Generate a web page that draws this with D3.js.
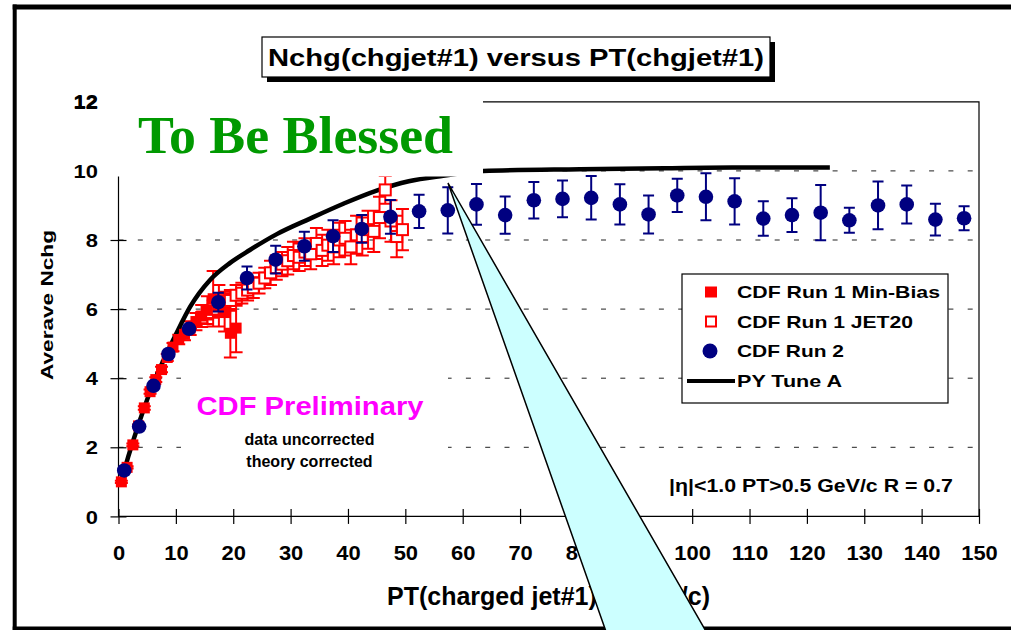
<!DOCTYPE html>
<html>
<head>
<meta charset="utf-8">
<script src="https://cdn.jsdelivr.net/npm/d3@7"></script>
<style>
  body { margin: 0; background: #fff; }
  text { font-family: Arial, "Liberation Sans", sans-serif; font-weight: bold; }
</style>
</head>
<body>
<svg id="chart" width="1011" height="630"></svg>
<script>
// ---- data -------------------------------------------------------------
// CDF Run 2: average charged multiplicity in the leading charged jet
const run2Pt  = [1.0, 3.6, 6.1, 8.7, 12.3, 17.4, 22.4, 27.4, 32.4, 37.4, 42.4, 47.4, 52.4,
                 57.4, 62.4, 67.4, 72.4, 77.4, 82.4, 87.4, 92.4, 97.4, 102.4, 107.4, 112.4,
                 117.4, 122.4, 127.4, 132.4, 137.4, 142.4, 147.4];
const run2N   = [1.33, 2.6, 3.78, 4.70, 5.43, 6.2, 6.9, 7.43, 7.82, 8.11, 8.32, 8.67, 8.83,
                 8.86, 9.03, 8.72, 9.15, 9.19, 9.22, 9.03, 8.74, 9.29, 9.25, 9.12, 8.62,
                 8.72, 8.79, 8.57, 9.0, 9.03, 8.59, 8.63];
const run2Err = [0.05, 0.05, 0.05, 0.06, 0.1, 0.27, 0.33, 0.4, 0.42, 0.46, 0.4, 0.49, 0.48,
                 0.67, 0.59, 0.54, 0.53, 0.53, 0.63, 0.58, 0.55, 0.48, 0.68, 0.67, 0.5,
                 0.49, 0.8, 0.36, 0.69, 0.55, 0.46, 0.35];

// CDF Run 1 Min-Bias
const mbPt  = [0.5, 1.5, 2.5, 3.5, 4.5, 5.5, 6.5, 7.5, 8.5, 9.5, 10.5, 11.5, 12.5, 13.5,
               14.5, 15.5, 16.5, 17.5, 18.5, 19.5, 20.5];
const mbN   = [1.0, 1.42, 2.07, 2.62, 3.14, 3.61, 3.96, 4.25, 4.6, 4.9, 5.12, 5.27, 5.45, 5.64,
               5.8, 5.97, 6.3, 6.1, 5.9, 5.3, 5.45];
const mbErr = [0.03, 0.03, 0.04, 0.04, 0.05, 0.06, 0.07, 0.08, 0.1, 0.12, 0.14, 0.17, 0.2, 0.25,
               0.32, 0.4, 0.8, 0.6, 0.55, 0.7, 0.7];

// CDF Run 1 JET20
const j20Pt  = [14.5, 15.5, 16.5, 17.5, 18.5, 19.5, 20.5, 21.5, 22.5, 23.5, 24.5, 25.5,
                26.5, 27.5, 28.5, 29.5, 30.5, 31.5, 32.5, 33.5, 34.5, 35.5, 36.5, 37.5,
                38.5, 39.5, 40.5, 41.5, 42.5, 43.5, 44.5, 45.5, 46.5, 47.5, 48.5, 49.5];
const j20N   = [5.75, 5.9, 6.0, 6.1, 6.2, 6.25, 6.4, 6.46, 6.55, 6.62, 6.75, 6.9,
                7.05, 7.2, 7.3, 7.4, 7.55, 7.5, 7.65, 7.6, 7.9, 7.7, 7.85, 7.8,
                8.0, 8.05, 7.8, 8.15, 8.1, 8.3, 8.25, 8.65, 9.45, 8.55, 8.1, 8.3];
const j20Err = [0.15, 0.2, 0.25, 0.3, 0.3, 0.3, 0.3, 0.3, 0.3, 0.3, 0.3, 0.3,
                0.35, 0.35, 0.35, 0.4, 0.4, 0.4, 0.4, 0.45, 0.45, 0.45, 0.45, 0.5,
                0.5, 0.5, 0.5, 0.55, 0.55, 0.55, 0.6, 0.6, 0.4, 0.6, 0.6, 0.6];

// PYTHIA Tune A prediction
const pyPt = [0.6, 1.7, 3.75, 6.1, 8.7, 10.1, 12.5, 16, 19.4, 22.9, 27.6, 33.4, 39.2, 45,
              50.6, 56.6, 63.6, 80.4, 95, 107, 124];
const pyN  = [1.1, 1.73, 2.79, 3.86, 4.82, 5.3, 6.07, 6.85, 7.33, 7.71, 8.17, 8.62, 9.05, 9.43,
              9.70, 9.86, 10.0, 10.05, 10.08, 10.1, 10.1];

const xTickValues = [0, 10, 20, 30, 40, 50, 60, 70, 80, 90, 100, 110, 120, 130, 140, 150];
const yTickValues = [0, 2, 4, 6, 8, 10, 12];
const gridValues  = [2, 4, 6, 8, 10];

const legendLabels = ["CDF Run 1 Min-Bias", "CDF Run 1 JET20", "CDF Run 2", "PY Tune A"];

// ---- layout -----------------------------------------------------------
const svg = d3.select("#chart");
const RED = "#ff0000", NAVY = "#000080";

const x = d3.scaleLinear().domain([0, 150]).range([118.5, 979]);
const y = d3.scaleLinear().domain([0, 12]).range([516.4, 101.8]);

svg.append("rect").attr("width", 1011).attr("height", 630).attr("fill", "#fff");

// dashed grid lines
svg.append("g").selectAll("line").data(gridValues).join("line")
  .attr("x1", x(0)).attr("x2", x(150))
  .attr("y1", d => y(d)).attr("y2", d => y(d))
  .attr("stroke", "#222").attr("stroke-width", 1)
  .attr("stroke-dasharray", "5,14.3");

// plot frame (top and right)
svg.append("path")
  .attr("d", `M${x(0)},${y(12)}H${x(150)}V${y(0)}`)
  .attr("fill", "none").attr("stroke", "#000").attr("stroke-width", 1.2);

// white label panel that masks the grid around the annotation
svg.append("rect").attr("x", 181).attr("y", 366).attr("width", 267).attr("height", 112).attr("fill", "#fff");
svg.append("text").attr("x", 310).attr("y", 415).attr("text-anchor", "middle")
  .attr("font-size", 25.5).attr("fill", "#ff00ff")
  .attr("textLength", 227).attr("lengthAdjust", "spacingAndGlyphs")
  .text("CDF Preliminary");
svg.append("text").attr("x", 309.5).attr("y", 445).attr("text-anchor", "middle")
  .attr("font-size", 16).attr("fill", "#000").text("data uncorrected");
svg.append("text").attr("x", 309.5).attr("y", 466.5).attr("text-anchor", "middle")
  .attr("font-size", 16).attr("fill", "#000").text("theory corrected");

// x axis
const xAxis = svg.append("g").attr("transform", `translate(0,${y(0)})`)
  .call(d3.axisBottom(x).tickValues(xTickValues).tickSize(7).tickPadding(0).tickFormat(d3.format("d")));
xAxis.select(".domain").attr("stroke", "#000").attr("stroke-width", 1.2).attr("d", `M${x(0)},0H${x(150)}`);
xAxis.selectAll(".tick line").attr("y1", -7.5).attr("y2", 7.5).attr("stroke", "#000").attr("stroke-width", 1.2);
xAxis.selectAll(".tick text").attr("y", 43.5).attr("dy", null)
  .attr("font-size", 21).attr("fill", "#000").attr("font-family", null)
  .attr("textLength", d => String(d).length * 12.2).attr("lengthAdjust", "spacingAndGlyphs");

// y axis
const yAxis = svg.append("g").attr("transform", `translate(${x(0)},0)`)
  .call(d3.axisLeft(y).tickValues(yTickValues).tickSize(8).tickPadding(0).tickFormat(d3.format("d")));
yAxis.select(".domain").attr("stroke", "#000").attr("stroke-width", 1.2).attr("d", `M0,${y(12)}V${y(0)}`);
yAxis.selectAll(".tick line").attr("x1", -8).attr("x2", 8).attr("stroke", "#000").attr("stroke-width", 1.2);
yAxis.selectAll(".tick text").attr("x", -20.5).attr("dy", "0.35em")
  .attr("font-size", 19).attr("fill", "#000").attr("font-family", null)
  .attr("textLength", d => String(d).length * 12.2).attr("lengthAdjust", "spacingAndGlyphs");

// axis titles
svg.append("text").attr("transform", "translate(53,305) rotate(-90)")
  .attr("text-anchor", "middle").attr("font-size", 17)
  .attr("textLength", 150).attr("lengthAdjust", "spacingAndGlyphs")
  .text("Averave Nchg");
const xTitle = svg.append("text").attr("x", 387).attr("y", 605).attr("font-size", 25);
xTitle.append("tspan").text("PT(charged jet#1) ");
xTitle.append("tspan").attr("x", 622.5).text("(GeV/c)");

// ---- series ------------------------------------------------------------
function errorBars(g, pts, vals, errs, color, cap) {
  const rows = pts.map((p, i) => ({ p, v: vals[i], e: errs[i] }));
  const path = rows.map(r => {
    const cx = x(r.p), y1 = y(r.v + r.e), y2 = y(r.v - r.e);
    return `M${cx},${y1}V${y2}M${cx - cap},${y1}H${cx + cap}M${cx - cap},${y2}H${cx + cap}`;
  }).join("");
  g.append("path").attr("d", path).attr("fill", "none").attr("stroke", color).attr("stroke-width", 2);
}

const series = svg.append("g");
errorBars(series, j20Pt, j20N, j20Err, RED, 6.5);
errorBars(series, mbPt, mbN, mbErr, RED, 6.5);

// PY Tune A curve
series.append("path")
  .datum(pyPt.map((p, i) => [p, pyN[i]]))
  .attr("d", d3.line().x(d => x(d[0])).y(d => y(d[1])).curve(d3.curveMonotoneX))
  .attr("fill", "none").attr("stroke", "#000").attr("stroke-width", 4.5)
  .attr("stroke-linejoin", "round");

// Run 1 JET20: open squares
series.append("g").selectAll("rect").data(j20Pt).join("rect")
  .attr("x", (d) => x(d) - 5.5).attr("y", (d, i) => y(j20N[i]) - 5.5)
  .attr("width", 11).attr("height", 11)
  .attr("fill", "#fff").attr("stroke", RED).attr("stroke-width", 2);

// Run 1 Min-Bias: filled squares
series.append("g").selectAll("rect").data(mbPt).join("rect")
  .attr("x", d => x(d) - 5.5).attr("y", (d, i) => y(mbN[i]) - 5.5)
  .attr("width", 11).attr("height", 11).attr("fill", RED);

// Run 2: navy circles with error bars
errorBars(series, run2Pt, run2N, run2Err, NAVY, 5.5);
series.append("g").selectAll("circle").data(run2Pt).join("circle")
  .attr("cx", d => x(d)).attr("cy", (d, i) => y(run2N[i])).attr("r", 7.3)
  .attr("fill", NAVY);

// ---- "To Be Blessed" stamp ----------------------------------------------
svg.append("rect").attr("x", 104).attr("y", 88).attr("width", 379).attr("height", 88.5).attr("fill", "#fff");
svg.append("text").attr("x", 138).attr("y", 153)
  .style("font-family", "'Liberation Serif', 'Times New Roman', 'DejaVu Serif', serif")
  .attr("font-size", 53).attr("fill", "#009900")
  .attr("textLength", 315).attr("lengthAdjust", "spacingAndGlyphs")
  .text("To Be Blessed");
// the masked part of the label at 12
svg.append("text").attr("x", x(0) - 20.5).attr("y", y(12)).attr("dy", "0.35em")
  .attr("text-anchor", "end").attr("font-size", 19)
  .attr("textLength", 24.4).attr("lengthAdjust", "spacingAndGlyphs").text("12");

// ---- legend --------------------------------------------------------------
const leg = svg.append("g");
leg.append("rect").attr("x", 682).attr("y", 274).attr("width", 266).attr("height", 129)
  .attr("fill", "#fff").attr("stroke", "#000").attr("stroke-width", 1.2);
const legY = [292, 321.5, 351, 381];
const legW = [203, 176, 107, 105];
leg.selectAll("text").data(legendLabels).join("text")
  .attr("x", 737).attr("y", (d, i) => legY[i] + 6).attr("font-size", 17)
  .attr("textLength", (d, i) => legW[i]).attr("lengthAdjust", "spacingAndGlyphs")
  .text(d => d);
leg.append("rect").attr("x", 705).attr("y", legY[0] - 5.5).attr("width", 12).attr("height", 11).attr("fill", RED);
leg.append("rect").attr("x", 706).attr("y", legY[1] - 5).attr("width", 10).attr("height", 10)
  .attr("fill", "#fff").attr("stroke", RED).attr("stroke-width", 2);
leg.append("circle").attr("cx", 710).attr("cy", legY[2]).attr("r", 7.5).attr("fill", NAVY);
leg.append("line").attr("x1", 687).attr("x2", 735).attr("y1", legY[3]).attr("y2", legY[3])
  .attr("stroke", "#000").attr("stroke-width", 4);

// selection note
svg.append("text").attr("x", 669).attr("y", 491.5).attr("font-size", 18)
  .attr("textLength", 284).attr("lengthAdjust", "spacingAndGlyphs")
  .text("|\u03b7|<1.0 PT>0.5 GeV/c R = 0.7");

// ---- title box -------------------------------------------------------------
svg.append("rect").attr("x", 267).attr("y", 42).attr("width", 508).attr("height", 40).attr("fill", "#000");
svg.append("rect").attr("x", 262).attr("y", 37).attr("width", 508).attr("height", 40)
  .attr("fill", "#fff").attr("stroke", "#000").attr("stroke-width", 1.2);
svg.append("text").attr("x", 516).attr("y", 66).attr("text-anchor", "middle")
  .attr("font-size", 23).attr("textLength", 496).attr("lengthAdjust", "spacingAndGlyphs")
  .text("Nchg(chgjet#1) versus PT(chgjet#1)");

// ---- slide frame -----------------------------------------------------------
svg.append("rect").attr("x", 12.7).attr("y", 4.5).attr("width", 1000).attr("height", 5).attr("fill", "#000");
svg.append("rect").attr("x", 12.7).attr("y", 4.5).attr("width", 4).attr("height", 630).attr("fill", "#000");
svg.append("rect").attr("x", 12.7).attr("y", 626.5).attr("width", 1000).attr("height", 4).attr("fill", "#000");

// ---- callout pointer (drawn over the frame) ---------------------------------
svg.append("path")
  .attr("d", "M448,183L711,640L609,640Z")
  .attr("fill", "#ccffff").attr("stroke", "#000").attr("stroke-width", 1.5)
  .attr("stroke-linejoin", "miter");
</script>
</body>
</html>
